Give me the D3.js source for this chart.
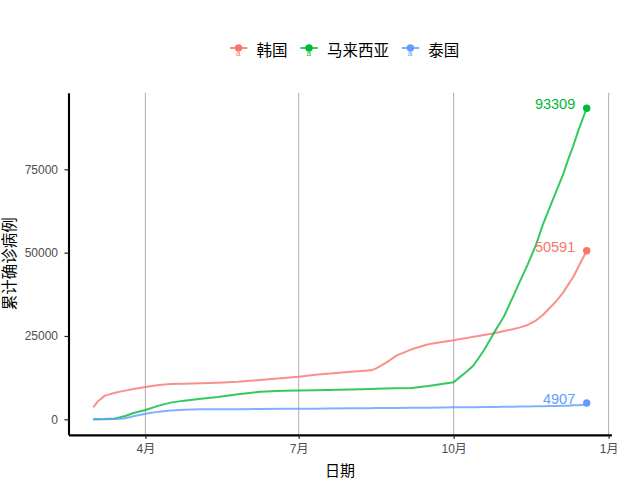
<!DOCTYPE html>
<html>
<head>
<meta charset="utf-8">
<script src="https://cdn.jsdelivr.net/npm/d3@7"></script>
<style>
  html, body { margin: 0; padding: 0; background: #ffffff; }
  svg { display: block; }
  text { font-family: "Liberation Sans", "Noto Sans CJK SC", sans-serif; }
</style>
</head>
<body>
<svg id="chart" width="640" height="480"></svg>
<script>
// ---------------- data ----------------
const dates = ["2020-03-01","2020-03-04","2020-03-08","2020-03-14","2020-03-17","2020-03-20","2020-03-25",
  "2020-04-01","2020-04-09","2020-04-16","2020-04-24","2020-05-04","2020-05-14","2020-05-26","2020-06-08",
  "2020-06-22","2020-07-01","2020-07-11","2020-07-18","2020-08-01","2020-08-13","2020-08-16","2020-08-22",
  "2020-08-28","2020-09-06","2020-09-16","2020-09-24","2020-10-01","2020-10-05","2020-10-09","2020-10-13",
  "2020-10-19","2020-10-25","2020-10-31","2020-11-05","2020-11-09","2020-11-14","2020-11-19","2020-11-23",
  "2020-11-27","2020-12-01","2020-12-05","2020-12-08","2020-12-11","2020-12-14","2020-12-17","2020-12-19"];
const korea = [3600,5500,7100,7950,8300,8600,9100,
  9700,10300,10600,10700,10800,11000,11250,11800,
  12400,12800,13400,13700,14300,14700,15300,17000,
  19100,21000,22500,23200,23700,24100,24400,24800,
  25300,25800,26500,27000,27500,28300,29700,31300,
  33400,35500,38000,40400,42700,45700,48600,50591];
const malaysia = [29,50,93,238,600,1000,1900,
  2800,4100,5000,5600,6200,6700,7500,8250,
  8550,8650,8700,8800,8950,9100,9150,9250,
  9300,9400,10000,10600,11100,12800,14400,16300,
  20700,26000,31000,36500,41000,46500,52500,58500,
  63500,68500,73500,78000,82000,86600,90700,93309];
const thailand = [42,43,50,82,177,322,934,
  1650,2300,2650,2900,2990,3020,3050,3120,
  3150,3170,3200,3250,3300,3350,3370,3400,
  3420,3440,3480,3520,3580,3600,3620,3650,
  3680,3720,3760,3800,3830,3860,3880,3900,
  3980,4000,4050,4100,4200,4250,4350,4907];
const seriesNames = ["韩国", "马来西亚", "泰国"];
const seriesColors = ["#F8766D", "#00BA38", "#619CFF"];
const xTickDates = ["2020-04-01", "2020-07-01", "2020-10-01", "2021-01-01"];
const xTickLabels = ["4月", "7月", "10月", "1月"];
const yTickValues = [0, 25000, 50000, 75000];
const xTitle = "日期";
const yTitle = "累计确诊病例";

// ---------------- setup ----------------
const parse = d3.utcParse("%Y-%m-%d");
const svg = d3.select("#chart");
const seriesValues = [korea, malaysia, thailand];
const series = seriesNames.map((name, i) => ({
  name, color: seriesColors[i],
  values: dates.map((d, j) => ({ date: parse(d), value: seriesValues[i][j] }))
}));

const d0 = parse(dates[0]), d1 = parse(dates[dates.length - 1]);
const span = d1 - d0;
const x = d3.scaleUtc()
  .domain([new Date(+d0 - 0.05 * span), new Date(+d1 + 0.05 * span)])
  .range([68.5, 611.4]);
const allVals = seriesValues.flat();
const vmin = Math.min(0, d3.min(allVals)), vmax = d3.max(allVals);
const vspan = vmax - vmin;
const y = d3.scaleLinear()
  .domain([vmin - 0.05 * vspan, vmax + 0.05 * vspan])
  .range([434.85, 92.75]);

const [pl, pr] = x.range();
const [pb, pt] = y.range();

// grid (vertical major only)
svg.append("g").selectAll("line")
  .data(xTickDates.map(parse))
  .join("line")
  .attr("x1", d => x(d)).attr("x2", d => x(d))
  .attr("y1", pt).attr("y2", pb)
  .attr("stroke", "#b3b3b3").attr("stroke-width", 1.07);

// lines
const line = d3.line().x(d => x(d.date)).y(d => y(d.value));
svg.append("g").selectAll("path")
  .data(series)
  .join("path")
  .attr("d", d => line(d.values))
  .attr("fill", "none")
  .attr("stroke", d => d.color)
  .attr("stroke-opacity", 0.8)
  .attr("stroke-width", 2)
  .attr("stroke-linejoin", "round");

// end points
svg.append("g").selectAll("circle")
  .data(series)
  .join("circle")
  .attr("cx", d => x(d.values[d.values.length - 1].date))
  .attr("cy", d => y(d.values[d.values.length - 1].value))
  .attr("r", 3.7)
  .attr("fill", d => d.color);

// end labels
svg.append("g").selectAll("text")
  .data(series)
  .join("text")
  .attr("x", d => x(d.values[d.values.length - 1].date) - 11.5)
  .attr("y", d => y(d.values[d.values.length - 1].value) - 4)
  .attr("text-anchor", "end")
  .attr("dominant-baseline", "central")
  .attr("font-size", "14.5px")
  .attr("fill", d => d.color)
  .text(d => d.values[d.values.length - 1].value);

// axes
const yAxis = d3.axisLeft(y).tickValues(yTickValues).tickSize(4).tickSizeOuter(0).tickFormat(d3.format("d"));
const gy = svg.append("g").attr("transform", `translate(${pl},0)`).call(yAxis);
gy.select(".domain").attr("stroke", "#000").attr("stroke-width", 2.1);
gy.selectAll(".tick line").attr("stroke", "#222").attr("stroke-width", 1.2);
gy.selectAll(".tick text")
  .attr("x", 58 - pl).attr("dy", null).attr("dominant-baseline", "central")
  .attr("font-size", "12px").attr("fill", "#4d4d4d")
  .style("font-family", "'Liberation Sans', 'Noto Sans CJK SC', sans-serif");

const xAxis = d3.axisBottom(x).tickValues(xTickDates.map(parse)).tickSize(4).tickSizeOuter(0)
  .tickFormat((d, i) => xTickLabels[i]);
const gx = svg.append("g").attr("transform", `translate(0,${pb})`).call(xAxis);
gx.select(".domain").attr("stroke", "#000").attr("stroke-width", 2.1);
gx.selectAll(".tick line").attr("stroke", "#222").attr("stroke-width", 1.2);
gx.selectAll(".tick text")
  .attr("y", 449 - pb).attr("dy", null).attr("dominant-baseline", "central")
  .attr("font-size", "12px").attr("fill", "#4d4d4d")
  .style("font-family", "'Liberation Sans', 'Noto Sans CJK SC', sans-serif");

// axis titles
svg.append("text")
  .attr("x", (pl + pr) / 2).attr("y", 470)
  .attr("text-anchor", "middle").attr("dominant-baseline", "central")
  .attr("font-size", "15px").attr("fill", "#000")
  .text(xTitle);
svg.append("text")
  .attr("transform", `translate(9,${(pt + pb) / 2}) rotate(-90)`)
  .attr("text-anchor", "middle").attr("dominant-baseline", "central")
  .attr("font-size", "15.5px").attr("fill", "#000")
  .text(yTitle);

// legend
const legend = svg.append("g");
let cx = 230;
const ky = 48;
series.forEach((s, i) => {
  const g = legend.append("g");
  g.append("line").attr("x1", cx).attr("x2", cx + 17.3).attr("y1", ky).attr("y2", ky)
    .attr("stroke", s.color).attr("stroke-opacity", 0.8).attr("stroke-width", 2);
  g.append("circle").attr("cx", cx + 8.6).attr("cy", ky).attr("r", 3.7).attr("fill", s.color);
  g.append("text").attr("x", cx + 8.2).attr("y", ky + 5).attr("text-anchor", "middle")
    .attr("dominant-baseline", "central").attr("font-size", "8px").attr("fill", s.color)
    .text("a");
  const t = g.append("text").attr("x", cx + 26.5).attr("y", 50.5)
    .attr("dominant-baseline", "central").attr("font-size", "15.5px").attr("fill", "#000")
    .text(s.name);
  cx = cx + 26.5 + t.node().getComputedTextLength() + 12.9;
});
</script>
</body>
</html>
